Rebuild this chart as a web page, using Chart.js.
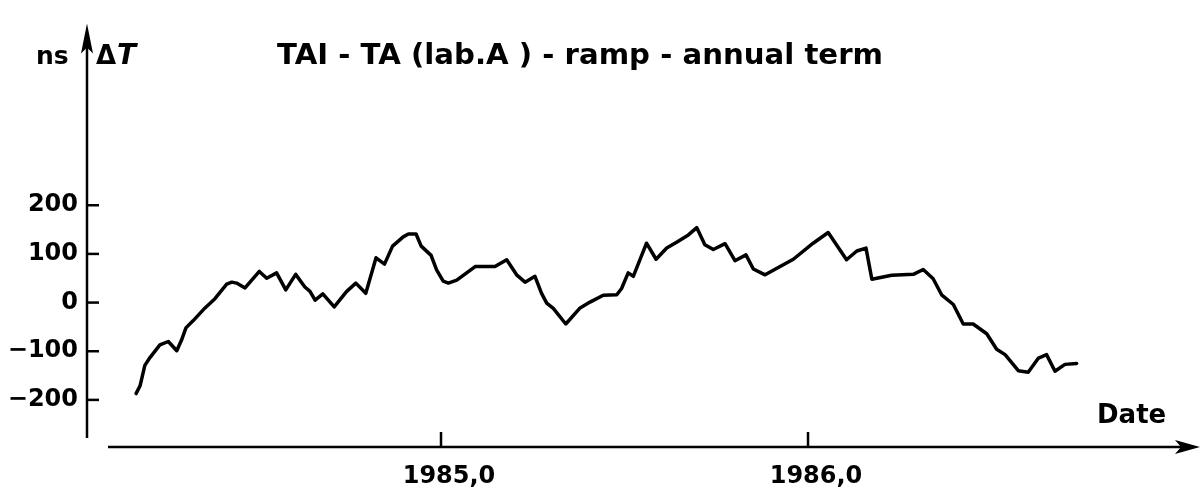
<!DOCTYPE html>
<html>
<head>
<meta charset="utf-8">
<script src="https://cdn.jsdelivr.net/npm/chart.js@4/dist/chart.umd.min.js"></script>
<style>
  html, body { margin: 0; padding: 0; background: #fff; }
  #wrap { width: 1202px; height: 494px; }
</style>
</head>
<body>
<div id="wrap"><canvas id="c" width="1202" height="494"></canvas></div>
<script>
// ---- Data ----
const dates = [
  1984.169, 1984.180, 1984.193, 1984.207, 1984.234, 1984.257, 1984.280, 1984.293, 1984.305, 1984.325,
  1984.357, 1984.384, 1984.416, 1984.430, 1984.443, 1984.466, 1984.505, 1984.525, 1984.552, 1984.577,
  1984.604, 1984.629, 1984.643, 1984.657, 1984.678, 1984.709, 1984.743, 1984.768, 1984.795, 1984.823,
  1984.846, 1984.868, 1984.897, 1984.911, 1984.932, 1984.946, 1984.973, 1984.988, 1985.006, 1985.020,
  1985.043, 1985.093, 1985.147, 1985.179, 1985.206, 1985.229, 1985.256, 1985.274, 1985.288, 1985.306,
  1985.340, 1985.379, 1985.406, 1985.442, 1985.479, 1985.492, 1985.510, 1985.524, 1985.560, 1985.586,
  1985.615, 1985.642, 1985.674, 1985.697, 1985.719, 1985.742, 1985.774, 1985.801, 1985.831, 1985.851,
  1985.883, 1985.924, 1985.960, 1986.014, 1986.055, 1986.105, 1986.133, 1986.158, 1986.174, 1986.228,
  1986.287, 1986.314, 1986.341, 1986.364, 1986.396, 1986.423, 1986.450, 1986.487, 1986.514, 1986.537,
  1986.573, 1986.600, 1986.628, 1986.650, 1986.673, 1986.700, 1986.732
];
const deltaT = [
  -187, -171, -129, -113, -87, -80, -99, -77, -52, -37,
  -11, 8, 38, 42, 40, 30, 64, 50, 61, 26,
  58, 32, 23, 5, 18, -9, 23, 40, 19, 92,
  79, 116, 135, 141, 141, 116, 97, 67, 44, 40,
  46, 74, 74, 88, 57, 42, 54, 19, -1, -12,
  -44, -11, 1, 15, 16, 29, 61, 54, 122, 89,
  112, 124, 139, 154, 119, 109, 121, 86, 98, 69,
  57, 74, 89, 122, 144, 88, 106, 112, 48, 56,
  58, 68, 49, 16, -4, -44, -44, -64, -96, -107,
  -140, -143, -114, -107, -141, -127, -125
];
const yTickValues = [-200, -100, 0, 100, 200];
const xTickValues = [1985, 1986];
const titleText = "TAI - TA (lab.A ) - ramp - annual term";
const yUnit = "ns";
const yName = "\u0394";
const yNameItalic = "T";
const xName = "Date";

const FONT = "'DejaVu Sans', 'Liberation Sans', sans-serif";

const axesPlugin = {
  id: 'axesPlugin',
  afterDraw(chart) {
    const ctx = chart.ctx;
    const xs = chart.scales.x, ys = chart.scales.y;
    const ca = chart.chartArea;
    const ax = ca.left;      // y-axis position
    const ay = ca.bottom;    // x-axis position
    ctx.save();
    ctx.strokeStyle = '#000';
    ctx.fillStyle = '#000';
    ctx.lineWidth = 2.5;
    ctx.lineCap = 'butt';
    // y axis
    ctx.beginPath();
    ctx.moveTo(ax, ay - 9);
    ctx.lineTo(ax, ca.top + 12);
    ctx.stroke();
    // y arrow
    ctx.beginPath();
    ctx.moveTo(ax, ca.top);
    ctx.lineTo(ax - 6, ca.top + 30);
    ctx.lineTo(ax, ca.top + 24);
    ctx.lineTo(ax + 6, ca.top + 30);
    ctx.closePath();
    ctx.fill();
    // x axis
    ctx.beginPath();
    ctx.moveTo(ax + 21, ay);
    ctx.lineTo(ca.right - 10, ay);
    ctx.stroke();
    ctx.beginPath();
    ctx.moveTo(ca.right, ay);
    ctx.lineTo(ca.right - 25, ay - 7);
    ctx.lineTo(ca.right - 19, ay);
    ctx.lineTo(ca.right - 25, ay + 7);
    ctx.closePath();
    ctx.fill();
    // y tick marks (inward)
    yTickValues.forEach(v => {
      const py = ys.getPixelForValue(v);
      ctx.beginPath();
      ctx.moveTo(ax, py);
      ctx.lineTo(ax + 12, py);
      ctx.stroke();
    });
    // x tick marks (upward)
    xTickValues.forEach(v => {
      const px = xs.getPixelForValue(v);
      ctx.beginPath();
      ctx.moveTo(px, ay);
      ctx.lineTo(px, ay - 15);
      ctx.stroke();
    });
    // texts
    ctx.textBaseline = 'alphabetic';
    ctx.textAlign = 'left';
    ctx.font = "bold 25px " + FONT;
    ctx.fillText(yUnit, 36, 64);
    ctx.font = "bold 26px " + FONT;
    ctx.fillText(yName, 96, 64);
    const dw = ctx.measureText(yName).width;
    ctx.font = "italic bold 28px " + FONT;
    ctx.fillText(yNameItalic, 96 + dw + 1, 64);
    // title fitted to its width in the figure
    ctx.font = "bold 28px " + FONT;
    const tw = ctx.measureText(titleText).width;
    const target = 606;
    ctx.save();
    ctx.translate(277, 64);
    ctx.scale(target / tw, 1);
    ctx.fillText(titleText, 0, 0);
    ctx.restore();
    ctx.font = "bold 26px " + FONT;
    ctx.fillText(xName, 1097, 423);
    ctx.restore();
  }
};

const whiteBg = {
  id: 'whiteBg',
  beforeDraw(chart) {
    const ctx = chart.ctx;
    ctx.save();
    ctx.fillStyle = '#fff';
    ctx.fillRect(0, 0, chart.width, chart.height);
    ctx.restore();
  }
};

new Chart(document.getElementById('c'), {
  type: 'line',
  data: {
    datasets: [{
      data: dates.map((d, i) => ({ x: d, y: deltaT[i] })),
      borderColor: '#000',
      borderWidth: 3.5,
      pointRadius: 0,
      tension: 0,
      fill: false,
      borderJoinStyle: 'round',
      borderCapStyle: 'round'
    }]
  },
  options: {
    responsive: false,
    animation: false,
    devicePixelRatio: 1,
    layout: { padding: { top: 10, right: 2, left: 0, bottom: 0 } },
    plugins: { legend: { display: false }, tooltip: { enabled: false }, title: { display: false } },
    scales: {
      x: {
        type: 'linear',
        min: 1984.0354,
        max: 1987.0681,
        grid: { display: false, drawTicks: false, tickLength: 0 },
        border: { display: false },
        afterBuildTicks: s => { s.ticks = xTickValues.map(v => ({ value: v })); },
        afterFit: s => { s.height = 47; },
        ticks: {
          color: '#000',
          font: { family: FONT, weight: 'bold', size: 24 },
          padding: 15,
          labelOffset: 8,
          maxRotation: 0,
          autoSkip: false,
          callback: v => v.toFixed(1).replace('.', ',')
        }
      },
      y: {
        min: -296.8,
        max: 573.7,
        grid: { display: false, drawTicks: false, tickLength: 0 },
        border: { display: false },
        afterBuildTicks: s => { s.ticks = yTickValues.map(v => ({ value: v })); },
        afterFit: s => { s.width = 87; },
        ticks: {
          color: '#000',
          font: { family: FONT, weight: 'bold', size: 24 },
          padding: 9,
          autoSkip: false,
          callback: v => (v < 0 ? '\u2212' + Math.abs(v) : String(v))
        }
      }
    }
  },
  plugins: [whiteBg, axesPlugin]
});
</script>
</body>
</html>
